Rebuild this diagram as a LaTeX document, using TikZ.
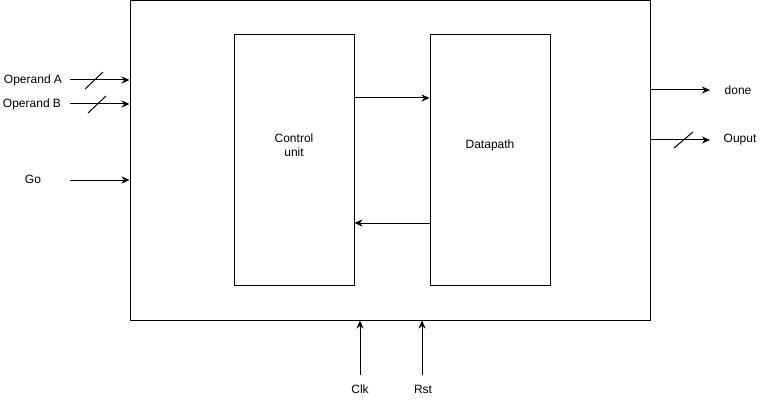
\documentclass[tikz,border=0pt]{standalone}
\usepackage{fontspec}
\setmainfont{Liberation Sans}
\usetikzlibrary{arrows.meta,positioning}

\begin{document}
\begin{tikzpicture}[x=1pt,y=-1pt,>={Stealth[length=8pt,width=7pt]},line width=1pt,
                    font=\fontsize{12}{14}\selectfont,
                    block/.style={draw,rectangle,inner sep=0pt},
                    label/.style={inner sep=1pt}]
    \useasboundingbox (0,0) rectangle (770,406);
    % boxes
    \node [block,minimum width=520pt,minimum height=319pt] (top)  at (390,160.5) {};
    \node [block,minimum width=120pt,minimum height=250pt] (ctrl) at (294,160) {};
    \node [block,minimum width=120pt,minimum height=250pt] (dp)   at (490,160) {};
    % labels
    \node [label,align=center] (ctrlt) at (294,145) {Control\\unit};
    \node [label] (dpt)  at (490,145) {Datapath};
    \node [label] (opA)  at (33,80)   {Operand A};
    \node [label] (opB)  at (32,104)  {Operand B};
    \node [label] (go)   at (33,179)  {Go};
    \node [label] (done) at (738,90)  {done};
    \node [label] (out)  at (740,140) {Ouput};
    \node [label] (clk)  at (360,389) {Clk};
    \node [label] (rst)  at (423,389) {Rst};
    % free ends
    \coordinate (opAin) at (70,80);
    \coordinate (opBin) at (70,104);
    \coordinate (goin)  at (70,180);
    \coordinate (doneo) at (710,90);
    \coordinate (outo)  at (710,140);
    \coordinate (clkin) at (360,375);
    \coordinate (rstin) at (422,375);
    % inputs and outputs
    \draw [->] (opAin) -- (opAin -| top.west);
    \draw [->] (opBin) -- (opBin -| top.west);
    \draw [->] (goin)  -- (goin -| top.west);
    \draw [->] (doneo -| top.east) -- (doneo);
    \draw [->] (outo -| top.east)  -- (outo);
    \draw [->] (clkin) -- (clkin |- top.south);
    \draw [->] (rstin) -- (rstin |- top.south);
    % bus slashes
    \draw (85,89) -- (103,72);
    \draw (88,113) -- (106,96);
    \draw (674,148) -- (693,132);
    % control <-> datapath
    \draw [->] (ctrl.east |- 0,98)  -- (dp.west |- 0,98);
    \draw [->] (dp.west |- 0,223)   -- (ctrl.east |- 0,223);
\end{tikzpicture}
\end{document}
